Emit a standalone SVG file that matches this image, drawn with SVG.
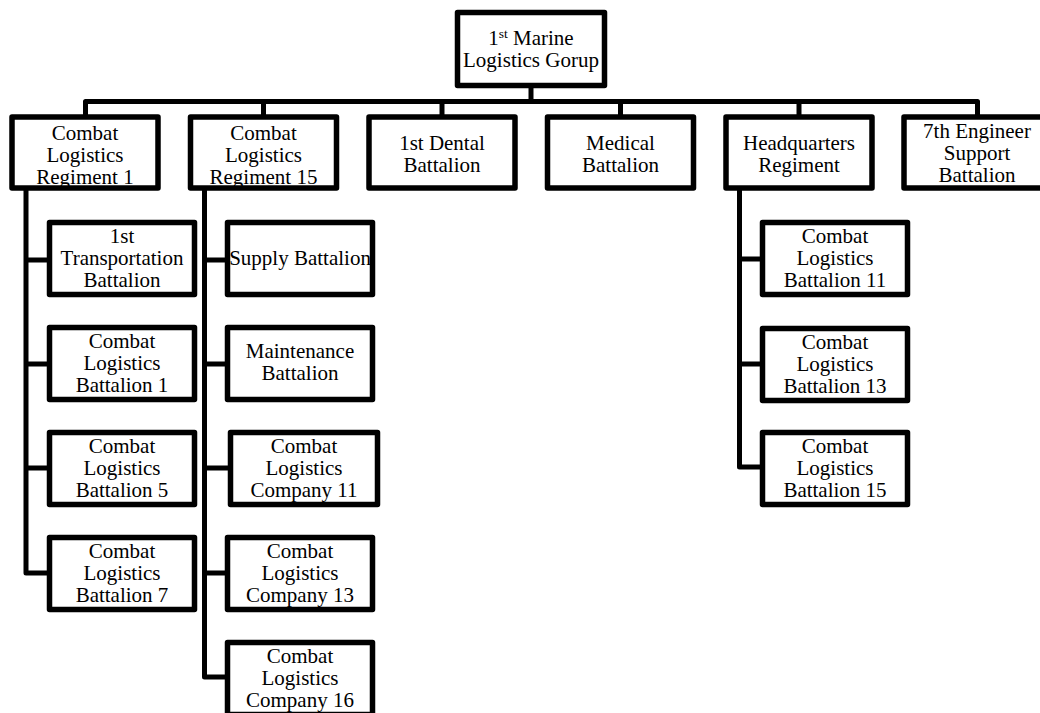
<svg xmlns="http://www.w3.org/2000/svg" width="1040" height="713" viewBox="0 0 1040 713">
<style>
.box{fill:#fff;stroke:#000;stroke-width:5.5;stroke-linejoin:round}
.con{fill:none;stroke:#000;stroke-width:5;stroke-linejoin:round}
.t{font-size:21px;fill:#000;text-anchor:middle}
</style>
<rect width="1040" height="713" fill="#fff"/>
<g id="connectors">
<path class="con" d="M531 88 V101.5"/>
<path class="con" d="M85.5 117 V101.5 H977.5 V117"/>
<path class="con" d="M263.5 101.5 V117"/>
<path class="con" d="M442 101.5 V117"/>
<path class="con" d="M620.5 101.5 V117"/>
<path class="con" d="M799 101.5 V117"/>
<path class="con" d="M26 190 V573 H49.5"/>
<path class="con" d="M26 260 H49.5 M26 364 H49.5 M26 468 H49.5"/>
<path class="con" d="M204.5 190 V677 H227.5"/>
<path class="con" d="M204.5 260 H227.5 M204.5 364 H227.5 M204.5 468 H230.5 M204.5 573 H227.5"/>
<path class="con" d="M739.5 190 V467 H762.5"/>
<path class="con" d="M739.5 259 H762.5 M739.5 364 H762.5"/>
</g>
<g class="t" font-family="'Liberation Serif', 'DejaVu Serif', 'Times New Roman', serif">
<g id="n-mlg"><rect class="box" x="457.5" y="12.5" width="147" height="73"/><text x="531" y="45">1<tspan font-size="13.5" dy="-7">st</tspan><tspan dy="7"> Marine</tspan></text><text x="531" y="67">Logistics Gorup</text></g>
<g id="n-clr1"><rect class="box" x="12" y="117" width="146" height="71"/><text x="85" y="139.5">Combat</text><text x="85" y="161.5">Logistics</text><text x="85" y="183.5">Regiment 1</text></g>
<g id="n-clr15"><rect class="box" x="190.5" y="117" width="146" height="71"/><text x="263.5" y="139.5">Combat</text><text x="263.5" y="161.5">Logistics</text><text x="263.5" y="183.5">Regiment 15</text></g>
<g id="n-dental"><rect class="box" x="369" y="117" width="146" height="71"/><text x="442" y="150">1st Dental</text><text x="442" y="172">Battalion</text></g>
<g id="n-medical"><rect class="box" x="547.5" y="117" width="146" height="71"/><text x="620.5" y="150">Medical</text><text x="620.5" y="172">Battalion</text></g>
<g id="n-hq"><rect class="box" x="726" y="117" width="146" height="71"/><text x="799" y="150">Headquarters</text><text x="799" y="172">Regiment</text></g>
<g id="n-7eng"><rect class="box" x="904" y="117" width="146" height="71"/><text x="977" y="138">7th Engineer</text><text x="977" y="160">Support</text><text x="977" y="182">Battalion</text></g>
<g id="n-1tb"><rect class="box" x="49.5" y="222.5" width="145" height="72"/><text x="122" y="243">1st</text><text x="122" y="265">Transportation</text><text x="122" y="287">Battalion</text></g>
<g id="n-clb1"><rect class="box" x="49.5" y="327.5" width="145" height="72"/><text x="122" y="348">Combat</text><text x="122" y="370">Logistics</text><text x="122" y="392">Battalion 1</text></g>
<g id="n-clb5"><rect class="box" x="49.5" y="432.5" width="145" height="72"/><text x="122" y="453">Combat</text><text x="122" y="475">Logistics</text><text x="122" y="497">Battalion 5</text></g>
<g id="n-clb7"><rect class="box" x="49.5" y="537.5" width="145" height="72"/><text x="122" y="558">Combat</text><text x="122" y="580">Logistics</text><text x="122" y="602">Battalion 7</text></g>
<g id="n-supply"><rect class="box" x="227.5" y="222.5" width="145" height="72"/><text x="300" y="265">Supply Battalion</text></g>
<g id="n-maint"><rect class="box" x="227.5" y="327.5" width="145" height="72"/><text x="300" y="358">Maintenance</text><text x="300" y="380">Battalion</text></g>
<g id="n-clc11"><rect class="box" x="230.5" y="432.5" width="147" height="72"/><text x="304" y="453">Combat</text><text x="304" y="475">Logistics</text><text x="304" y="497">Company 11</text></g>
<g id="n-clc13"><rect class="box" x="227.5" y="537.5" width="145" height="72"/><text x="300" y="558">Combat</text><text x="300" y="580">Logistics</text><text x="300" y="602">Company 13</text></g>
<g id="n-clc16"><rect class="box" x="227.5" y="642.5" width="145" height="72"/><text x="300" y="663">Combat</text><text x="300" y="685">Logistics</text><text x="300" y="707">Company 16</text></g>
<g id="n-clb11"><rect class="box" x="762.5" y="222.5" width="145" height="72"/><text x="835" y="243">Combat</text><text x="835" y="265">Logistics</text><text x="835" y="287">Battalion 11</text></g>
<g id="n-clb13"><rect class="box" x="762.5" y="328.5" width="145" height="72"/><text x="835" y="349">Combat</text><text x="835" y="371">Logistics</text><text x="835" y="393">Battalion 13</text></g>
<g id="n-clb15"><rect class="box" x="762.5" y="432.5" width="145" height="72"/><text x="835" y="453">Combat</text><text x="835" y="475">Logistics</text><text x="835" y="497">Battalion 15</text></g>
</g>
</svg>
